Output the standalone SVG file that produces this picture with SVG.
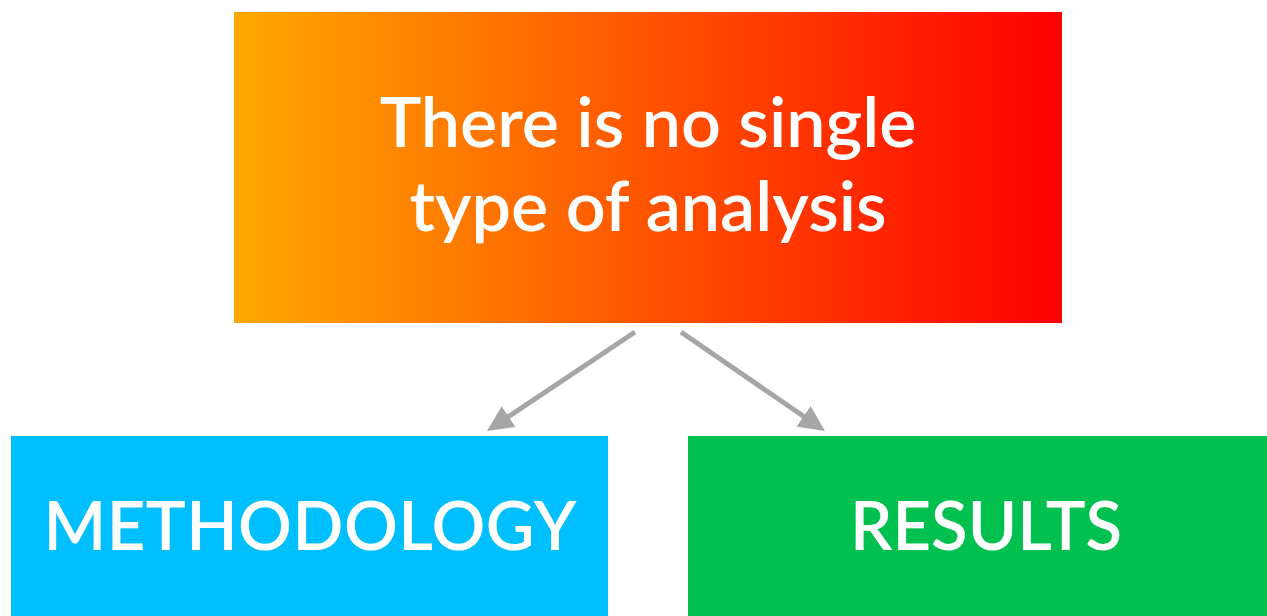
<svg xmlns="http://www.w3.org/2000/svg" width="1267" height="616" viewBox="0 0 1267 616">
<style>
.t{font-family:Lato,"Noto Sans","Liberation Sans",sans-serif;font-weight:600;fill:#ffffff;text-anchor:middle}
.c{stroke:#a6a6a6;stroke-width:5;fill:none}
</style>
<defs>
<linearGradient id="g" x1="0" y1="0" x2="1" y2="0">
<stop offset="0" stop-color="#ffa800"/>
<stop offset="1" stop-color="#ff0000"/>
</linearGradient>
<marker id="ah" markerUnits="userSpaceOnUse" markerWidth="26" markerHeight="25" refX="6" refY="12.5" orient="auto">
<path d="M0,0 L26,12.5 L0,25 z" fill="#a6a6a6"/>
</marker>
</defs>
<g id="top">
<rect x="234" y="12" width="828" height="311" fill="url(#g)"/>
<text class="t" x="648" y="147" font-size="70">There is no single</text>
<text class="t" x="648" y="231" font-size="70">type of analysis</text>
</g>
<g id="methodology">
<rect x="11" y="436" width="597" height="190" fill="#00bfff"/>
<text class="t" x="310" y="550" font-size="67" textLength="533" lengthAdjust="spacing">METHODOLOGY</text>
</g>
<g id="results">
<rect x="688" y="436" width="597" height="190" fill="#00c050"/>
<text class="t" x="986" y="550" font-size="67">RESULTS</text>
</g>
<g id="connectors">
<line class="c" x1="635" y1="332" x2="503.6" y2="419.9" marker-end="url(#ah)"/>
<line class="c" x1="681" y1="332" x2="808.5" y2="419.7" marker-end="url(#ah)"/>
</g>
</svg>
